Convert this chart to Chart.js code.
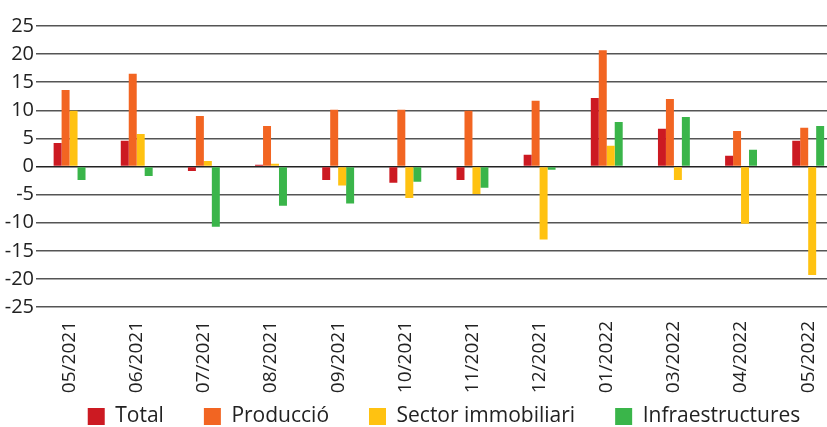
<!DOCTYPE html>
<html>
<head>
  <meta charset="UTF-8">
  <title>Variació</title>
  <script src="https://cdn.jsdelivr.net/npm/chart.js"></script>
  <style>
    body {
      margin: 0;
      background: #fff;
      overflow: hidden;
    }
    .chart-container {
      width: 845px;
      height: 427px;
    }
  </style>
</head>
<body>
  <div class="chart-container">
    <canvas id="chart"></canvas>
  </div>

  <script>
    const months = ['05/2021', '06/2021', '07/2021', '08/2021', '09/2021', '10/2021',
      '11/2021', '12/2021', '01/2022', '03/2022', '04/2022', '05/2022'];

    const total = [4.2, 4.6, -0.8, 0.3, -2.4, -2.9, -2.4, 2.1, 12.2, 6.7, 1.9, 4.6];
    const produccio = [13.6, 16.5, 9.0, 7.2, 10.1, 10.1, 9.9, 11.7, 20.7, 12.0, 6.3, 6.9];
    const sector = [9.9, 5.8, 1.0, 0.5, -3.4, -5.6, -4.9, -13.0, 3.7, -2.4, -10.2, -19.3];
    const infra = [-2.4, -1.7, -10.7, -7.0, -6.6, -2.7, -3.8, -0.6, 7.9, 8.8, 3.0, 7.2];

    const yTicks = [25, 20, 15, 10, 5, 0, -5, -10, -15, -20, -25];

    const font = 'Open Sans, Noto Sans, sans-serif';

    // legend keeps its wide item spacing (padding 40) but sits tight under the labels
    const legendShift = {
      id: 'legendShift',
      afterLayout(chart) {
        chart.legend.top -= 34;
        chart.legend.left += 43;
      }
    };

    const ctx = document.getElementById('chart').getContext('2d');
    new Chart(ctx, {
      type: 'bar',
      data: {
        labels: months,
        datasets: [
          { label: 'Total', data: total, backgroundColor: '#CC1A22' },
          { label: 'Producció', data: produccio, backgroundColor: '#F26522' },
          { label: 'Sector immobiliari', data: sector, backgroundColor: '#FFC211' },
          { label: 'Infraestructures', data: infra, backgroundColor: '#3AB54A' }
        ]
      },
      plugins: [legendShift],
      options: {
        responsive: true,
        maintainAspectRatio: false,
        animation: false,
        layout: { padding: { top: 26, right: 0, left: 0, bottom: 0 } },
        datasets: {
          bar: { categoryPercentage: 0.475, barPercentage: 1.0 }
        },
        plugins: {
          tooltip: { enabled: false },
          legend: {
            position: 'bottom',
            maxHeight: 27,
            labels: {
              boxWidth: 17,
              boxHeight: 17,
              padding: 40,
              color: '#222',
              font: { family: font, size: 21 }
            }
          }
        },
        scales: {
          x: {
            afterFit: scale => { scale.height = 93; },
            grid: { display: false, drawTicks: false },
            border: { display: false },
            ticks: {
              color: '#222',
              padding: 14,
              minRotation: 90,
              maxRotation: 90,
              font: { family: font, size: 19 }
            }
          },
          y: {
            min: -25,
            max: 25,
            afterFit: scale => { scale.width = 36; },
            afterBuildTicks: scale => {
              scale.ticks = yTicks.map(v => ({ value: v }));
            },
            border: { display: false },
            grid: {
              drawTicks: false,
              color: ctx => ctx.tick && ctx.tick.value === 0 ? '#222' : '#555',
              lineWidth: 1.5
            },
            ticks: {
              autoSkip: false,
              color: '#222',
              padding: 2,
              font: { family: font, size: 20 }
            }
          }
        }
      }
    });
  </script>
</body>
</html>
